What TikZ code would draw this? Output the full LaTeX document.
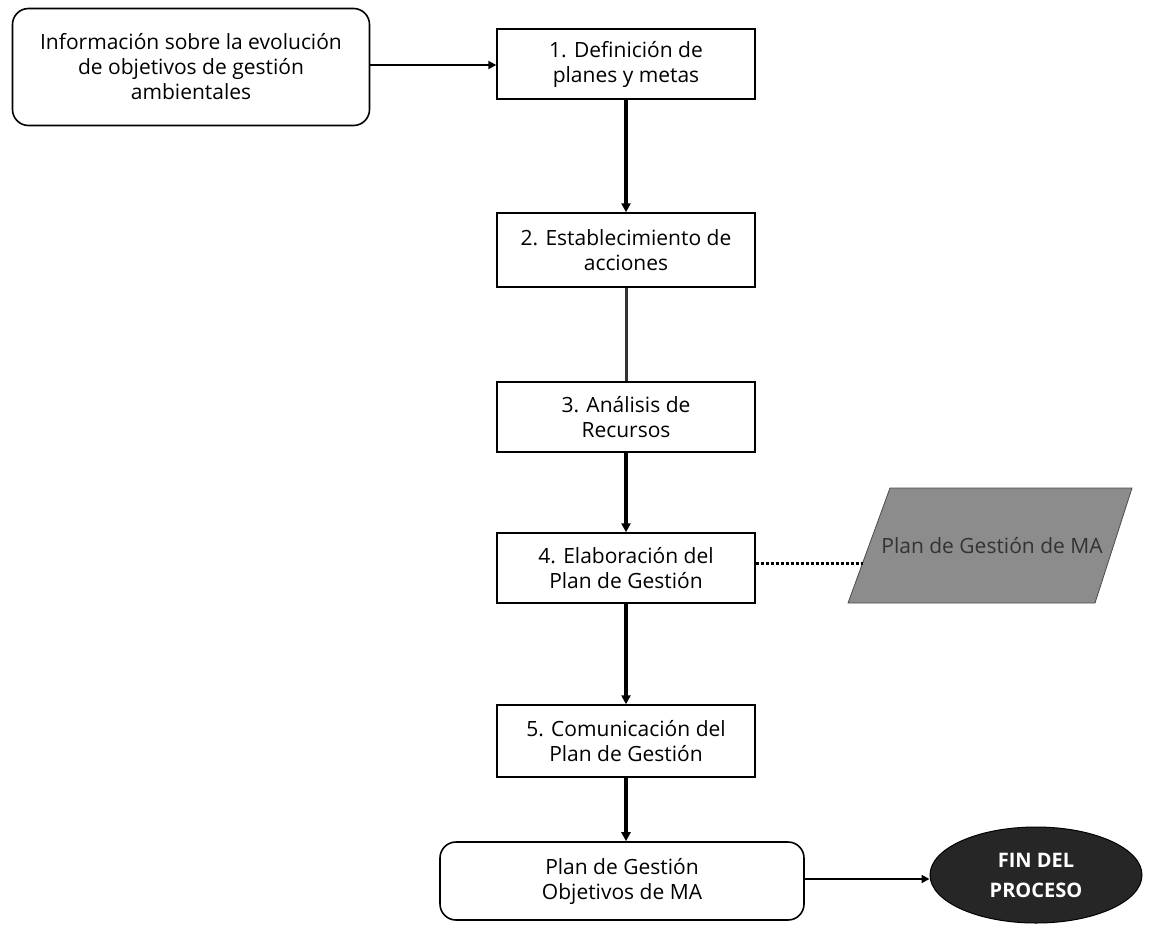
\documentclass[tikz,border=0pt]{standalone}
\usepackage{fontspec}
\setmainfont{Open Sans}
\usetikzlibrary{arrows.meta,shapes.geometric}
\begin{document}
\begin{tikzpicture}[x=1pt,y=-1pt,
  every node/.style={font=\fontsize{21}{25}\selectfont, align=center, inner sep=0pt},
  stepbox/.style={draw, line width=1.4pt, minimum width=258pt, minimum height=70pt},
  roundbox/.style={draw, line width=1.6pt, rounded corners=16pt},
  flow/.style={line width=3.2pt, -{Triangle[length=9pt,width=9pt]}},
  flowplain/.style={line width=3pt},
  side/.style={line width=1.8pt, -{Triangle[length=8pt,width=8pt]}},
  hint/.style={line width=3pt, dotted, line cap=butt}
]
\useasboundingbox[fill=white] (0,0) rectangle (1150,932);

% input information
\node[roundbox, minimum width=357pt, minimum height=117pt] (info) at (191,67)
  {Información sobre la evolución\\de objetivos de gestión\\ambientales};

% process steps
\node[stepbox] (s1) at (626,64) {1. Definición de\\planes y metas};
\node[stepbox, minimum height=74pt] (s2) at (626,250) {2. Establecimiento de\\acciones};
\node[stepbox] (s3) at (626,417) {3. Análisis de\\Recursos};
\node[stepbox] (s4) at (626,568) {4. Elaboración del\\Plan de Gestión};
\node[stepbox, minimum height=72pt] (s5) at (626,741) {5. Comunicación del\\Plan de Gestión};

% result
\node[roundbox, minimum width=364pt, minimum height=78pt] (res) at (622,881)
  {Plan de Gestión\\Objetivos de MA};

% document produced by step 4
\fill[black!45, draw=black!70, line width=0.8pt]
  (890,488) -- (1132,488) -- (1095,603) -- (848,603) -- cycle;
\coordinate (docin) at (862.6,563);
\node[text=black!80] (doc) at (992,546) {Plan de Gestión de MA};

% end of the process
\node[ellipse, draw=black, line width=1pt, fill=black!85, minimum width=212pt, minimum height=96pt,
  text=white, font=\bfseries\fontsize{20}{30}\selectfont] (fin) at (1036,875) {FIN DEL\\PROCESO};

% connectors
\draw[side] (info.east |- 0,65) -- (s1.west |- 0,65);
\draw[flow] (s1.south) -- (s2.north);
\draw[flowplain, black!80] (s2.south) -- (s3.north);
\draw[flow] (s3.south) -- (s4.north);
\draw[flow] (s4.south) -- (s5.north);
\draw[flow] (s5.south) -- (s5.south |- res.north);
\draw[hint] (s4.east |- docin) -- (docin);
\draw[side] (res.east |- 0,879) -- (fin.west |- 0,879);
\end{tikzpicture}
\end{document}
